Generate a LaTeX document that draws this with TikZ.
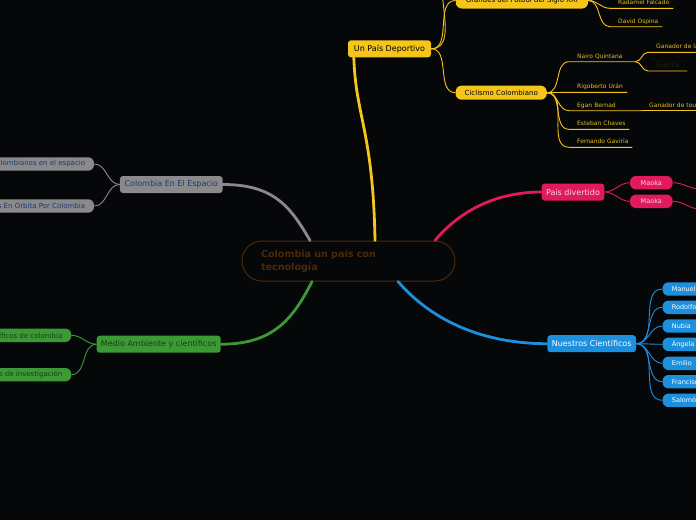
\documentclass[tikz,border=0pt]{standalone}
\usepackage{fontspec}
\setmainfont{DejaVu Sans}
\usepackage{tikz}
\usetikzlibrary{positioning}
\definecolor{cbg}{HTML}{060709}
\definecolor{cylw}{HTML}{F5C51B}
\definecolor{cylwtxt}{HTML}{E2BE1E}
\definecolor{cgray}{HTML}{8A8A8C}
\definecolor{cgraytxt}{HTML}{1E3A6E}
\definecolor{cpink}{HTML}{E01A5B}
\definecolor{cpinktxt}{HTML}{F6D6E0}
\definecolor{cblue}{HTML}{1C8FDD}
\definecolor{cgreen}{HTML}{3C9A35}
\definecolor{cgreentxt}{HTML}{183E18}
\definecolor{cbrown}{HTML}{4A2A08}
\definecolor{cdim}{HTML}{24220E}

\begin{document}
\begin{tikzpicture}[
    x=1pt, y=-1pt,
    topic/.style={
        rectangle, rounded corners=3pt, minimum height=17pt, inner xsep=4pt,
        inner ysep=1pt, font=\fontsize{8}{9.6}\selectfont
    },
    sub/.style={
        rectangle, rounded corners=6pt, minimum height=13.4pt, inner xsep=9pt,
        inner ysep=1pt, font=\fontsize{6.5}{8}\selectfont
    },
    leaf/.style={
        text width=#1, inner xsep=0pt, inner ysep=3.5pt, text depth=0pt,
        align=left, anchor=south west, text=cylwtxt,
        font=\fontsize{6}{7}\selectfont,
        execute at begin node={\hspace*{8pt}}
    },
    branch/.style={line width=2.8pt, line cap=round},
    twig/.style={line width=0.9pt},
]

% --- page ------------------------------------------------------------
\fill[cbg] (0,0) rectangle (696,520);
\useasboundingbox (0,0) rectangle (696,520);
\clip (0,0) rectangle (696,520);

% --- central idea ----------------------------------------------------
\node[draw=cbrown, line width=1pt, fill=cbg, rounded corners=20pt,
      minimum height=40pt, text width=175pt, inner xsep=19pt, align=left,
      text=cbrown, font=\bfseries\fontsize{9.6}{12.5}\selectfont]
      (ctr) at (348.5,261) {Colombia un país con\\tecnología};

% --- main topics -----------------------------------------------------
\node[topic, fill=cylw, text=black, minimum width=83pt]
      (dep) at (389.5,48.8) {Un País Deportivo};
\node[topic, fill=cgray, text=cgraytxt, minimum width=102.7pt]
      (esp) at (171.3,184.5) {Colombia En El Espacio};
\node[topic, fill=cpink, text=cpinktxt, minimum width=62.6pt]
      (div) at (573,192) {País divertido};
\node[topic, fill=cblue, text=white, minimum width=88.7pt]
      (cie) at (591.7,343.7) {Nuestros Científicos};
\node[topic, fill=cgreen, text=cgreentxt, minimum width=124pt]
      (amb) at (158.7,344.2) {Medio Ambiente y científicos};

% --- main branches ---------------------------------------------------
\draw[branch, cylw] ([xshift=26.5pt]ctr.north)
    .. controls +(-2,-110) and +(2,60) .. ([xshift=6pt]dep.south west);
\draw[branch, cgray] ([xshift=-38.5pt]ctr.north)
    .. controls +(-20,-35) and +(50,0) .. (esp.east);
\draw[branch, cpink] ([xshift=86.5pt]ctr.north)
    .. controls +(25,-30) and +(-45,0) .. (div.west);
\draw[branch, cblue] ([xshift=49.5pt]ctr.south)
    .. controls +(30,35) and +(-70,0) .. (cie.west);
\draw[branch, cgreen] ([xshift=-36.5pt]ctr.south)
    .. controls +(-20,40) and +(50,0) .. (amb.east);

% --- Un País Deportivo -----------------------------------------------
\node[sub, fill=cylw, text=black, minimum width=132.3pt, minimum height=16pt,
      font=\fontsize{7}{8.4}\selectfont]
      (fut) at (521.9,0.5) {Grandes del Futbol del Siglo XXI};
\node[sub, fill=cylw, text=black, minimum width=91pt, minimum height=14pt,
      font=\fontsize{7}{8.4}\selectfont]
      (cic) at (501.2,92.7) {Ciclismo Colombiano};
\coordinate (dep-up) at (456,-35);
\coordinate (fut-up) at (612,-12);

\draw[twig, cylw] (dep.east) to[out=0,in=180] (dep-up);
\draw[twig, cylw] (dep.east) to[out=0,in=180] (fut.west);
\draw[twig, cylw] (dep.east) to[out=0,in=180] (cic.west);

% futbol leaves
\node[leaf=63pt] (rad) at (610,8.3)  {Radamel Falcado};
\node[leaf=52pt] (dav) at (610,26.7) {David Ospina};
\draw[twig, cylw] (fut.east) to[out=0,in=180] (fut-up);
\foreach \n in {rad,dav}
    \draw[twig, cylw] (fut.east) to[out=0,in=180] (\n.south west)
        -- (\n.south east);

% ciclismo leaves
\node[leaf=66pt] (nai) at (569,61.7)  {Nairo Quintana};
\node[leaf=58pt] (rig) at (569,92.3)  {Rigoberto Urán};
\node[leaf=72pt] (ega) at (569,110.7) {Egan Bernad};
\node[leaf=60pt] (est) at (569,129.3) {Esteban Chaves};
\node[leaf=63pt] (fer) at (569,147.3) {Fernando Gaviria};
\foreach \n in {nai,rig,ega,est,fer}
    \draw[twig, cylw] (cic.east) to[out=0,in=180] (\n.south west)
        -- (\n.south east);

\node[leaf=80pt] (gla) at (648,52.3)  {Ganador de la};
\node[leaf=39pt, text=cdim] (stt) at (648,71) {Subtitle};
\node[leaf=80pt] (gto) at (641,110.7) {Ganador de tour};
\foreach \n in {gla,stt}
    \draw[twig, cylw] (nai.south east) to[out=0,in=180] (\n.south west)
        -- (\n.south east);
\draw[twig, cylw] (ega.south east) -- (gto.south east);

% --- Colombia En El Espacio ------------------------------------------
\node[sub, fill=cgray, text=cgraytxt, anchor=east, font=\fontsize{7}{8}\selectfont]
      (ast) at (94.3,164) {Colombianos en el espacio};
\node[sub, fill=cgray, text=cgraytxt, anchor=east, font=\fontsize{7}{8}\selectfont]
      (sat) at (94.3,206) {Satélites En Orbita Por Colombia};
\foreach \n in {ast,sat}
    \draw[twig, cgray] (esp.west) to[out=180,in=0] (\n.east);

% --- Medio Ambiente y científicos ------------------------------------
\node[sub, fill=cgreen, text=cgreentxt, anchor=east, font=\fontsize{7}{8}\selectfont]
      (cdc) at (71.5,335.3) {Científicos de colombia};
\node[sub, fill=cgreen, text=cgreentxt, anchor=east, font=\fontsize{7}{8}\selectfont]
      (pdi) at (71.5,374.7) {Proyectos de investigación};
\foreach \n in {cdc,pdi}
    \draw[twig, cgreen] (amb.west) to[out=180,in=0] (\n.east);

% --- País divertido --------------------------------------------------
\node[sub, fill=cpink, text=cpinktxt, minimum width=42.7pt]
      (mk1) at (651.3,182.7) {Maoka};
\node[sub, fill=cpink, text=cpinktxt, minimum width=42.7pt]
      (mk2) at (651.3,201.3) {Maoka};
\coordinate (mk1-out) at (700,189);
\coordinate (mk2-out) at (700,209);
\foreach \n in {mk1,mk2} {
    \draw[twig, cpink] (div.east) to[out=0,in=180] (\n.west);
    \draw[twig, cpink] (\n.east) to[out=0,in=180] (\n-out);
}

% --- Nuestros Científicos --------------------------------------------
\foreach \n/\y/\t in {man/289/Manuel, rod/307.3/Rodolfo, nub/326/Nubia,
        ang/344.3/Ángela, emi/363.3/Emilio, fra/381.7/Francisco,
        sal/400.3/Salomón} {
    \node[sub, fill=cblue, text=white, anchor=west, text width=40pt,
          align=left, inner xsep=9.4pt] (\n) at (662.3,\y) {\t};
    \draw[twig, cblue] (cie.east) to[out=0,in=180] (\n.west);
}

\end{tikzpicture}
\end{document}
